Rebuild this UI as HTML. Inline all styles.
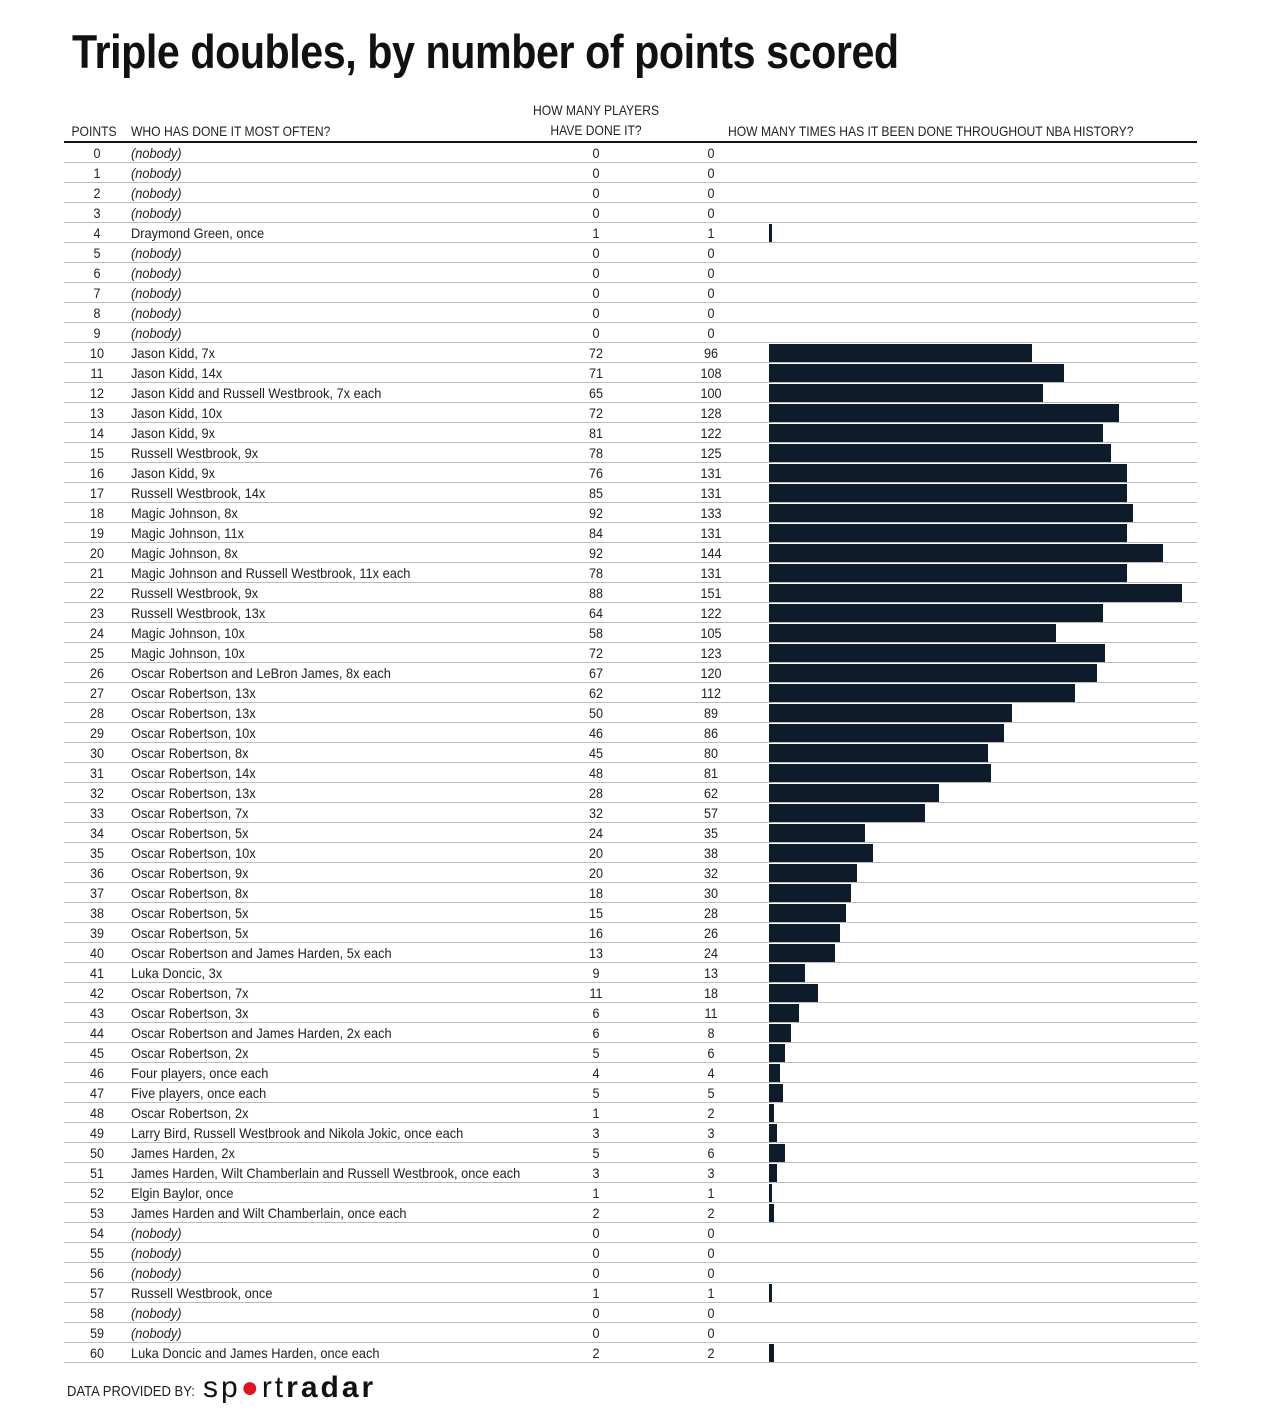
<!DOCTYPE html>
<html><head><meta charset="utf-8"><style>
body{margin:0;width:1261px;height:1423px;background:#fff;font-family:"Liberation Sans Narrow","Liberation Sans",sans-serif;color:#222;position:relative;overflow:hidden}
.t{position:absolute;left:72px;top:24px;font-size:47px;font-weight:bold;color:#111;letter-spacing:-0.5px;transform:scaleX(0.877);transform-origin:left;white-space:nowrap}
.h{position:absolute;font-size:14px;color:#222;text-align:center;line-height:20px;transform:scaleX(0.865);white-space:nowrap}
.hl{position:absolute;left:64px;top:141px;width:1133px;height:2px;background:#111}
.r{position:absolute;left:64px;width:1133px;height:19px;border-bottom:1px solid #bbb;font-size:14px;line-height:20px}
.r span{position:absolute;top:0;white-space:nowrap}
.p{left:13px;width:40px;text-align:center;transform:scaleX(0.9)}
.n{left:67px;transform:scaleX(0.915);transform-origin:left}
.n i{font-style:italic}
.c{left:512px;width:40px;text-align:center;transform:scaleX(0.9)}
.d{left:627px;width:40px;text-align:center;transform:scaleX(0.9)}
.b{top:1px!important;left:705px;height:18px;background:#0d1b2a}
.f{position:absolute;left:67px;top:1383px;font-size:15px;color:#222;transform:scaleX(0.87);transform-origin:left;white-space:nowrap}
.logo{position:absolute;left:203px;top:1371px;font-size:30px;font-family:"Liberation Sans","DejaVu Sans",sans-serif;letter-spacing:3px;color:#111;line-height:34px;white-space:nowrap}
</style></head><body>
<div class="t">Triple doubles, by number of points scored</div>
<div class="h" style="left:64px;top:121px;width:60px">POINTS</div>
<div class="h" style="left:131px;top:121px;text-align:left;transform-origin:left">WHO HAS DONE IT MOST OFTEN?</div>
<div class="h" style="left:516px;top:100px;width:160px">HOW MANY PLAYERS<br>HAVE DONE IT?</div>
<div class="h" style="left:728px;top:121px;text-align:left;transform-origin:left">HOW MANY TIMES HAS IT BEEN DONE THROUGHOUT NBA HISTORY?</div>
<div class="hl"></div>
<div id="rows"></div>
<div class="f">DATA PROVIDED BY:</div>
<div class="logo">sp<span style="color:#e0141e">●</span>rt<b>radar</b></div>
<script>
var D=[[0,"",0,0],[1,"",0,0],[2,"",0,0],[3,"",0,0],[4,"Draymond Green, once",1,1],[5,"",0,0],[6,"",0,0],[7,"",0,0],[8,"",0,0],[9,"",0,0],
[10,"Jason Kidd, 7x",72,96],[11,"Jason Kidd, 14x",71,108],[12,"Jason Kidd and Russell Westbrook, 7x each",65,100],[13,"Jason Kidd, 10x",72,128],[14,"Jason Kidd, 9x",81,122],[15,"Russell Westbrook, 9x",78,125],[16,"Jason Kidd, 9x",76,131],[17,"Russell Westbrook, 14x",85,131],[18,"Magic Johnson, 8x",92,133],[19,"Magic Johnson, 11x",84,131],
[20,"Magic Johnson, 8x",92,144],[21,"Magic Johnson and Russell Westbrook, 11x each",78,131],[22,"Russell Westbrook, 9x",88,151],[23,"Russell Westbrook, 13x",64,122],[24,"Magic Johnson, 10x",58,105],[25,"Magic Johnson, 10x",72,123],[26,"Oscar Robertson and LeBron James, 8x each",67,120],[27,"Oscar Robertson, 13x",62,112],[28,"Oscar Robertson, 13x",50,89],[29,"Oscar Robertson, 10x",46,86],
[30,"Oscar Robertson, 8x",45,80],[31,"Oscar Robertson, 14x",48,81],[32,"Oscar Robertson, 13x",28,62],[33,"Oscar Robertson, 7x",32,57],[34,"Oscar Robertson, 5x",24,35],[35,"Oscar Robertson, 10x",20,38],[36,"Oscar Robertson, 9x",20,32],[37,"Oscar Robertson, 8x",18,30],[38,"Oscar Robertson, 5x",15,28],[39,"Oscar Robertson, 5x",16,26],
[40,"Oscar Robertson and James Harden, 5x each",13,24],[41,"Luka Doncic, 3x",9,13],[42,"Oscar Robertson, 7x",11,18],[43,"Oscar Robertson, 3x",6,11],[44,"Oscar Robertson and James Harden, 2x each",6,8],[45,"Oscar Robertson, 2x",5,6],[46,"Four players, once each",4,4],[47,"Five players, once each",5,5],[48,"Oscar Robertson, 2x",1,2],[49,"Larry Bird, Russell Westbrook and Nikola Jokic, once each",3,3],
[50,"James Harden, 2x",5,6],[51,"James Harden, Wilt Chamberlain and Russell Westbrook, once each",3,3],[52,"Elgin Baylor, once",1,1],[53,"James Harden and Wilt Chamberlain, once each",2,2],[54,"",0,0],[55,"",0,0],[56,"",0,0],[57,"Russell Westbrook, once",1,1],[58,"",0,0],[59,"",0,0],[60,"Luka Doncic and James Harden, once each",2,2]];
var h="";
D.forEach(function(d,i){
var n=d[1]?d[1]:"<i>(nobody)</i>";
var b=d[3]?'<span class="b" style="width:'+Math.max(Math.round(d[3]*2.735),3)+'px"></span>':"";
h+='<div class="r" style="top:'+(143+20*i)+'px"><span class="p">'+d[0]+'</span><span class="n">'+n+'</span><span class="c">'+d[2]+'</span><span class="d">'+d[3]+'</span>'+b+'</div>';
});
document.getElementById("rows").innerHTML=h;
</script>
</body></html>
